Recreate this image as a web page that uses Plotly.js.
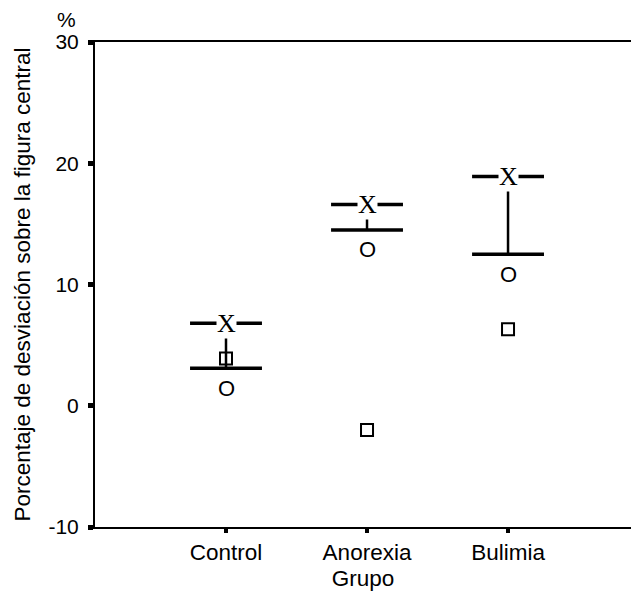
<!DOCTYPE html>
<html>
<head>
<meta charset="utf-8">
<script src="https://cdn.plot.ly/plotly-3.0.1.min.js"></script>
<style>html,body{margin:0;padding:0;background:#fff;}</style>
</head>
<body>
<div id="chart" style="width:631px;height:594px;"></div>
<script>
// ---- data ----
const categories = ['Control', 'Anorexia', 'Bulimia'];
const xMarkValues = [6.8, 16.6, 18.9];      // value marked "X"
const oMarkValues = [3.1, 14.5, 12.5];      // value marked "O"
const squareValues = [3.9, -2.0, 6.3];      // square markers
const yTickVals = [-10, 0, 10, 20, 30];
const yTickText = ['-10', '0', '10', '20', '30'];

// ---- build traces ----
const pos = categories.map((c, i) => i);
const hw = 0.255;
const barX = [], barY = [], vX = [], vY = [];
pos.forEach((p, i) => {
  barX.push(p - hw, p + hw, null, p - hw, p + hw, null);
  barY.push(xMarkValues[i], xMarkValues[i], null, oMarkValues[i], oMarkValues[i], null);
  vX.push(p, p, null);
  vY.push(oMarkValues[i], xMarkValues[i], null);
});

const traces = [
  {x: vX, y: vY, mode: 'lines', line: {color: '#000', width: 2.5}, hoverinfo: 'skip', showlegend: false},
  {x: barX, y: barY, mode: 'lines', line: {color: '#000', width: 3.5}, hoverinfo: 'skip', showlegend: false},
  {x: pos, y: squareValues, mode: 'markers', marker: {symbol: 'square-open', size: 12, color: '#000', line: {color: '#000', width: 2}}, showlegend: false}
];

const L = 95, T = 42, W = 631 - 95, H = 527 - 42;
const annotations = [];
pos.forEach((p, i) => {
  annotations.push({x: p, y: xMarkValues[i], xref: 'x', yref: 'y', text: 'X', showarrow: false,
    bgcolor: '#fff', borderpad: 0, font: {family: 'Liberation Serif', size: 26, color: '#000'}});
  annotations.push({x: p, y: oMarkValues[i], xref: 'x', yref: 'y', text: 'O', showarrow: false,
    yshift: -20, font: {family: 'Liberation Sans', size: 22, color: '#000'}});
});
annotations.push({x: (66 - L) / W, y: 1 + (T - 20) / H, xref: 'paper', yref: 'paper', text: '%',
  xanchor: 'center', yanchor: 'middle', showarrow: false,
  font: {family: 'Liberation Sans', size: 21, color: '#000'}});

const layout = {
  width: 631, height: 594,
  margin: {l: 95, r: 0, t: 42, b: 67},
  paper_bgcolor: '#fff', plot_bgcolor: '#fff',
  font: {family: 'Liberation Sans', color: '#000'},
  xaxis: {
    range: [-0.929, 2.872], tickvals: pos, ticktext: categories,
    showline: true, linecolor: '#000', linewidth: 2, mirror: true,
    ticks: 'outside', ticklen: 4, tickwidth: 4, tickcolor: '#000',
    showgrid: false, zeroline: false,
    tickfont: {size: 22.5, family: 'Liberation Sans'},
    title: {text: 'Grupo', font: {size: 22.5, family: 'Liberation Sans'}, standoff: 6}
  },
  yaxis: {
    range: [-10, 30], tickvals: yTickVals, ticktext: yTickText,
    showline: true, linecolor: '#000', linewidth: 2,
    ticks: 'outside', ticklen: 5, tickwidth: 5, tickcolor: '#000',
    ticklabelstandoff: 5,
    showgrid: false, zeroline: false,
    tickfont: {size: 21, family: 'Liberation Sans'},
    title: {text: 'Porcentaje de desviación sobre la figura central', font: {size: 22.5, family: 'Liberation Sans'}, standoff: 12}
  },
  annotations: annotations
};

Plotly.newPlot('chart', traces, layout, {displayModeBar: false, staticPlot: true});
</script>
</body>
</html>
